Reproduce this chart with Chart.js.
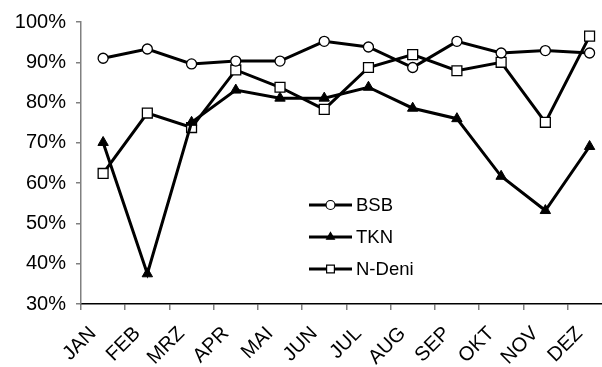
<!DOCTYPE html>
<html>
<head>
<meta charset="utf-8">
<script src="https://cdn.jsdelivr.net/npm/chart.js@4/dist/chart.umd.min.js"></script>
<style>
html, body { margin: 0; padding: 0; background: #fff; overflow: hidden; }
</style>
</head>
<body>
<canvas id="chart" width="620" height="367"></canvas>
<script>
const months = ['JAN', 'FEB', 'MRZ', 'APR', 'MAI', 'JUN', 'JUL', 'AUG', 'SEP', 'OKT', 'NOV', 'DEZ'];
const bsb = [91.0, 93.3, 89.6, 90.3, 90.3, 95.2, 93.8, 88.7, 95.2, 92.3, 92.9, 92.3];
const tkn = [70.1, 37.5, 75.1, 83.1, 81.1, 81.1, 83.8, 78.6, 76.0, 61.7, 53.2, 69.1];
const nDeni = [62.4, 77.4, 73.8, 88.1, 83.8, 78.3, 88.7, 91.9, 87.9, 90.0, 75.1, 96.5];
const yMin = 30;
const yMax = 100;
const yStep = 10;

const family = '"Liberation Sans", Arial, sans-serif';
const tickFont = { family: family, size: 20 };
const legendSize = 18.5;

// legend sits inside the plot, drawn by hand
const insideLegend = {
    id: 'insideLegend',
    afterDraw(chart) {
        const ctx = chart.ctx;
        const x0 = 309, x1 = 352, rowY = [205, 237, 269];
        chart.data.datasets.forEach((ds, i) => {
            const y = rowY[i];
            ctx.save();
            ctx.strokeStyle = '#000';
            ctx.lineWidth = 3;
            ctx.beginPath();
            ctx.moveTo(x0, y);
            ctx.lineTo(x1, y);
            ctx.stroke();
            ctx.fillStyle = ds.pointBackgroundColor;
            ctx.lineWidth = 1.2;
            Chart.helpers.drawPoint(ctx, {
                pointStyle: ds.pointStyle,
                radius: ds.pointStyle === 'rect' ? 5.5 : 4.5,
                rotation: 0,
                borderWidth: 1.2
            }, (x0 + x1) / 2, y);
            ctx.fillStyle = '#000';
            ctx.font = legendSize + 'px ' + family;
            ctx.textBaseline = 'middle';
            ctx.fillText(ds.label, x1 + 4, y + 1);
            ctx.restore();
        });
    }
};

new Chart(document.getElementById('chart').getContext('2d'), {
    type: 'line',
    data: {
        labels: months,
        datasets: [{
            label: 'BSB',
            data: bsb,
            borderColor: '#000',
            borderWidth: 3,
            pointStyle: 'circle',
            pointRadius: 5,
            pointBackgroundColor: '#fff',
            pointBorderColor: '#000',
            pointBorderWidth: 1.3
        }, {
            label: 'TKN',
            data: tkn,
            borderColor: '#000',
            borderWidth: 3,
            pointStyle: 'triangle',
            pointRadius: 6,
            pointBackgroundColor: '#000',
            pointBorderColor: '#000',
            pointBorderWidth: 1
        }, {
            label: 'N-Deni',
            data: nDeni,
            borderColor: '#000',
            borderWidth: 3,
            pointStyle: 'rect',
            pointRadius: 7,
            pointBackgroundColor: '#fff',
            pointBorderColor: '#000',
            pointBorderWidth: 1.3
        }]
    },
    options: {
        responsive: false,
        animation: false,
        layout: { padding: { top: 21, right: 6, left: 0, bottom: 0 } },
        plugins: {
            legend: { display: false },
            tooltip: { enabled: false }
        },
        elements: { line: { tension: 0 } },
        scales: {
            x: {
                offset: true,
                grid: { offset: true, drawOnChartArea: false, drawTicks: true, tickLength: 6, color: '#808080', lineWidth: 1.5 },
                border: { color: '#000', width: 1.5 },
                ticks: {
                    autoSkip: false,
                    maxRotation: 45,
                    minRotation: 45,
                    padding: 12,
                    labelOffset: -10,
                    color: '#000',
                    font: tickFont
                },
                afterFit(scale) { scale.height = 63; }
            },
            y: {
                min: yMin,
                max: yMax,
                grid: { drawOnChartArea: false, drawTicks: true, tickLength: 5, color: '#808080', lineWidth: 1.5 },
                border: { color: '#808080', width: 1.5 },
                ticks: {
                    stepSize: yStep,
                    padding: 10,
                    color: '#000',
                    font: tickFont,
                    callback: v => v + '%'
                },
                afterFit(scale) { scale.width = 81; }
            }
        }
    },
    plugins: [insideLegend]
});
</script>
</body>
</html>
